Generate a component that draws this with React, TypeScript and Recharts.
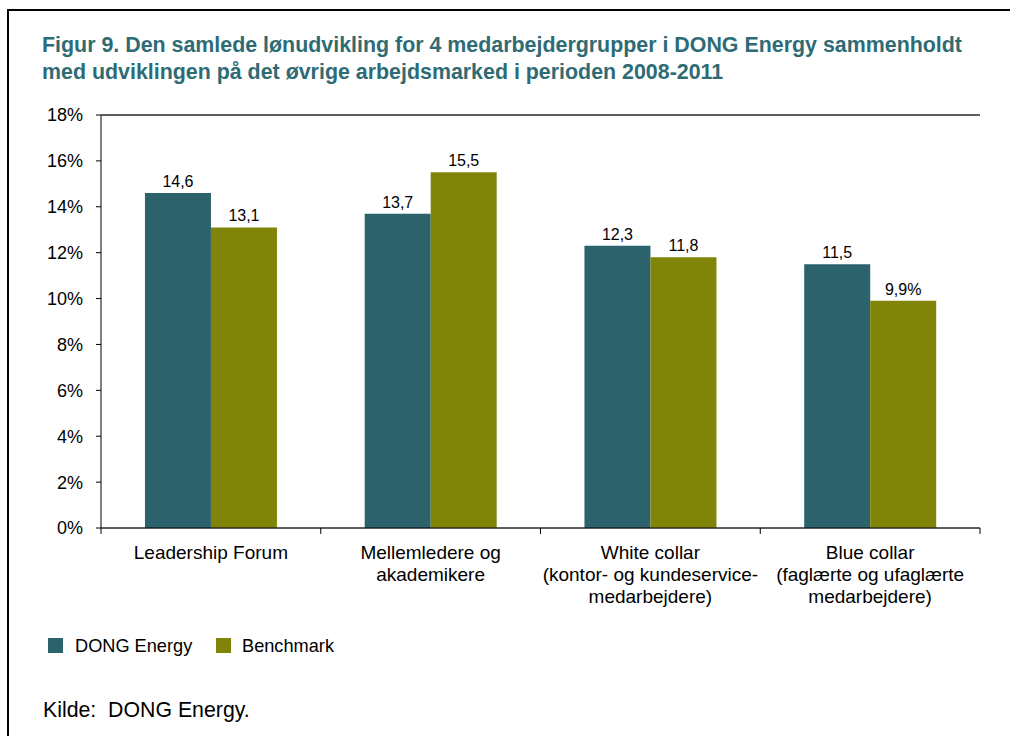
import React from 'react';
import { BarChart, Bar, XAxis, YAxis, CartesianGrid, LabelList, ReferenceLine } from 'recharts';

const categories = [
  'Leadership Forum',
  'Mellemledere og\nakademikere',
  'White collar\n(kontor- og kundeservice-\nmedarbejdere)',
  'Blue collar\n(faglærte og ufaglærte\nmedarbejdere)',
];
const dongValues = [14.6, 13.7, 12.3, 11.5];
const benchmarkValues = [13.1, 15.5, 11.8, 9.9];
const dongLabels = ['14,6', '13,7', '12,3', '11,5'];
const benchmarkLabels = ['13,1', '15,5', '11,8', '9,9%'];
const yTicks = [0, 2, 4, 6, 8, 10, 12, 14, 16, 18];
const seriesNames = ['DONG Energy', 'Benchmark'];
const seriesColors = ['#2B626C', '#80850A'];
const titleLines = [
  'Figur 9. Den samlede lønudvikling for 4 medarbejdergrupper i DONG Energy sammenholdt',
  'med udviklingen på det øvrige arbejdsmarked i perioden 2008-2011',
];
const sourceText = 'Kilde:  DONG Energy.';

const data = categories.map((c, i) => ({
  category: c,
  dong: dongValues[i],
  benchmark: benchmarkValues[i],
  dongLabel: dongLabels[i],
  benchmarkLabel: benchmarkLabels[i],
}));

const FONT = '"Liberation Sans", Arial, Helvetica, sans-serif';

const XTick = (props: any) => {
  const { x, y, payload, index, visibleTicksCount } = props;
  const half = payload && typeof payload.offset === 'number' && payload.offset > 0 ? payload.offset : 110;
  const lines = String(payload.value).split('\n');
  return (
    <g>
      <line x1={x - half} x2={x - half} y1={y} y2={y + 6} stroke="#000" strokeWidth={1} />
      {index === visibleTicksCount - 1 && (
        <line x1={x + half} x2={x + half} y1={y} y2={y + 6} stroke="#000" strokeWidth={1} />
      )}
      <text x={x} y={y} textAnchor="middle" fontSize={19} fill="#000" fontFamily={FONT}>
        {lines.map((l, i) => (
          <tspan key={i} x={x} dy={i === 0 ? 31 : 22}>
            {l}
          </tspan>
        ))}
      </text>
    </g>
  );
};

export default function App() {
  return (
    <div style={{ position: 'absolute', left: 0, top: 0, width: 1010, height: 736, background: '#fff', fontFamily: FONT }}>
      <svg width={1010} height={736} style={{ position: 'absolute', left: 0, top: 0 }}>
        <line x1={8} y1={9} x2={8} y2={736} stroke="#000" strokeWidth={2} />
        <line x1={7} y1={10} x2={1010} y2={10} stroke="#000" strokeWidth={2} />
        {titleLines.map((t, i) => (
          <text key={i} x={42} y={52 + i * 27} fontSize={21.4} fontWeight="bold" fill="#2E6B75" fontFamily={FONT}>
            {t}
          </text>
        ))}
        {seriesNames.map((n, i) => (
          <g key={n}>
            <rect x={48 + i * 168} y={638} width={15} height={15} fill={seriesColors[i]} />
            <text x={75 + i * 167} y={652} fontSize={18.2} fill="#000" fontFamily={FONT}>
              {n}
            </text>
          </g>
        ))}
        <text x={43} y={717} fontSize={21.3} fill="#000" fontFamily={FONT} style={{ whiteSpace: 'pre' }}>
          {sourceText}
        </text>
      </svg>
      <div style={{ position: 'absolute', left: 0, top: 0 }}>
        <BarChart
          width={1010}
          height={736}
          data={data}
          margin={{ top: 115, right: 30, left: 41, bottom: 118 }}
          barCategoryGap="20%"
          barGap={0}
          style={{ fontFamily: FONT }}
        >
          <CartesianGrid vertical={false} stroke="#777777" strokeWidth={1} />
          <XAxis
            dataKey="category"
            height={90}
            axisLine={{ stroke: '#000', strokeWidth: 1 }}
            tickLine={false}
            tickSize={0}
            tickMargin={0}
            interval={0}
            tick={<XTick />}
          />
          <YAxis
            yAxisId="left"
            width={60}
            domain={[0, 18]}
            ticks={yTicks}
            interval={0}
            tickFormatter={(v: number) => `${v}%`}
            axisLine={{ stroke: '#000', strokeWidth: 1 }}
            tickLine={{ stroke: '#000', strokeWidth: 1 }}
            tickSize={5}
            tickMargin={13}
            tick={{ fontSize: 18, fill: '#000', fontFamily: FONT }}
          />
          <YAxis
            yAxisId="right"
            orientation="right"
            width={0}
            domain={[0, 18]}
            tick={false}
            tickLine={false}
            axisLine={{ stroke: '#000', strokeWidth: 1 }}
          />
          <ReferenceLine yAxisId="left" y={18} stroke="#000" strokeWidth={1} />
          <Bar yAxisId="left" dataKey="dong" fill={seriesColors[0]} isAnimationActive={false}>
            <LabelList dataKey="dongLabel" position="top" offset={6} fill="#000" fontSize={16} fontFamily={FONT} />
          </Bar>
          <Bar yAxisId="left" dataKey="benchmark" fill={seriesColors[1]} isAnimationActive={false}>
            <LabelList dataKey="benchmarkLabel" position="top" offset={6} fill="#000" fontSize={16} fontFamily={FONT} />
          </Bar>
        </BarChart>
      </div>
    </div>
  );
}
